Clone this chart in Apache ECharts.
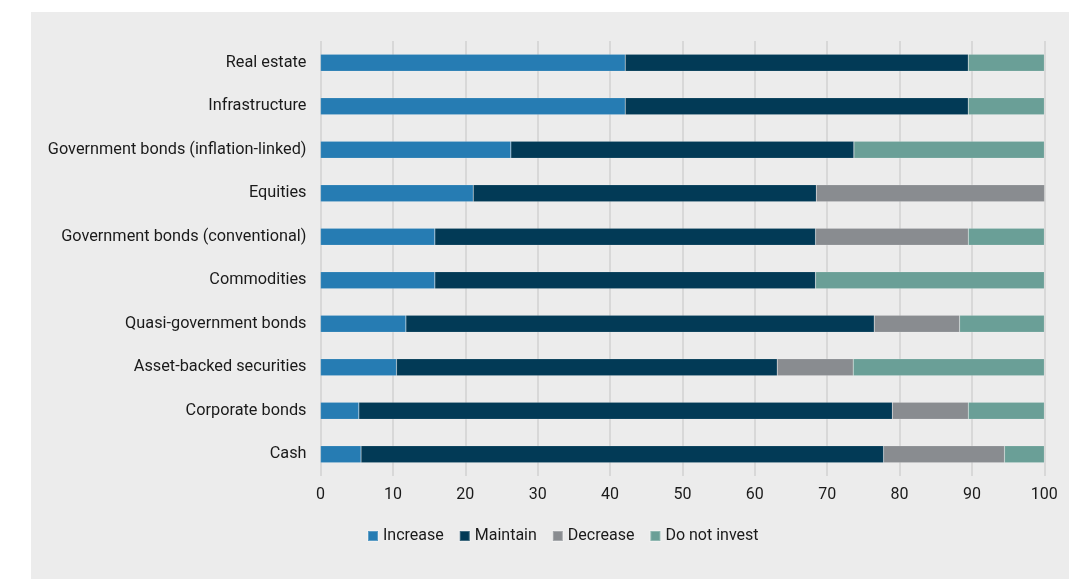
<!DOCTYPE html>
<html>
<head>
<meta charset="utf-8">
<script src="https://cdn.jsdelivr.net/npm/echarts@6/dist/echarts.min.js"></script>
<style>
	html, body { margin: 0; padding: 0; background: #fff; }
	#chart { position: absolute; left: 31px; top: 12px; width: 1038px; height: 567px; background: #ececec; }
</style>
</head>
<body>
<div id="chart"></div>
<script>
// categories, bottom to top (category axis draws first item at the bottom)
var categories = [
	'Cash',
	'Corporate bonds',
	'Asset-backed securities',
	'Quasi-government bonds',
	'Commodities',
	'Government bonds (conventional)',
	'Equities',
	'Government bonds (inflation-linked)',
	'Infrastructure',
	'Real estate'
];
// share of respondents, %
var increase    = [5.6, 5.3, 10.5, 11.8, 15.8, 15.8, 21.1, 26.3, 42.1, 42.1];
var maintain    = [72.2, 73.7, 52.6, 64.7, 52.6, 52.6, 47.4, 47.4, 47.4, 47.4];
var decrease    = [16.7, 10.5, 10.5, 11.8, 0, 21.1, 31.6, 0, 0, 0];
var doNotInvest = [5.5, 10.5, 26.4, 11.7, 31.6, 10.5, 0, 26.3, 10.5, 10.5];
var xTicks = [0, 10, 20, 30, 40, 50, 60, 70, 80, 90, 100];

var SERIES_NAME = {
	inc	: 'Increase',
	mnt	: 'Maintain',
	dec	: 'Decrease',
	dni	: 'Do not invest'
};
var COLORS = ['#267cb3', '#023a56', '#898c90', '#6a9f97'];
var FONT = 'Roboto';
var TEXT_COLOR = '#1a1a1a';

function getBarSeries(name, data, color) {
	return {
		name: name,
		type: 'bar',
		stack: 'total',
		barWidth: 17,
		itemStyle: {
			color: color,
			borderColor: 'rgba(255,255,255,0.25)',
			borderWidth: 0.5
		},
		emphasis: { disabled: true },
		data: data
	};
}

var chart = echarts.init(document.getElementById('chart'));
chart.setOption({
	animation: false,
	color: COLORS,
	textStyle: { fontFamily: FONT },
	grid: {
		left: 289.5,
		right: 24.7,
		top: 29,
		bottom: 103,
		containLabel: false
	},
	legend: {
		left: 331,
		top: 511,
		icon: 'rect',
		itemWidth: 10,
		itemHeight: 10,
		itemGap: 15,
		textStyle: { fontFamily: FONT, fontSize: 16, color: TEXT_COLOR },
		data: [SERIES_NAME.inc, SERIES_NAME.mnt, SERIES_NAME.dec, SERIES_NAME.dni]
	},
	xAxis: {
		type: 'value',
		min: xTicks[0],
		max: xTicks[xTicks.length - 1],
		interval: 10,
		axisLine: { show: false },
		axisTick: { show: false },
		splitLine: { show: true, lineStyle: { color: '#d2d2d2', width: 1.5 } },
		axisLabel: {
			color: TEXT_COLOR,
			fontSize: 16,
			fontFamily: FONT,
			margin: 11,
			formatter: function (v) { return xTicks.indexOf(v) != -1 ? String(v) : ''; }
		}
	},
	yAxis: {
		type: 'category',
		data: categories,
		axisLine: { show: false },
		axisTick: { show: false },
		axisLabel: { color: TEXT_COLOR, fontSize: 16.3, fontFamily: FONT, margin: 14 }
	},
	series: [
		getBarSeries(SERIES_NAME.inc, increase, COLORS[0]),
		getBarSeries(SERIES_NAME.mnt, maintain, COLORS[1]),
		getBarSeries(SERIES_NAME.dec, decrease, COLORS[2]),
		getBarSeries(SERIES_NAME.dni, doNotInvest, COLORS[3])
	]
});
</script>
</body>
</html>
